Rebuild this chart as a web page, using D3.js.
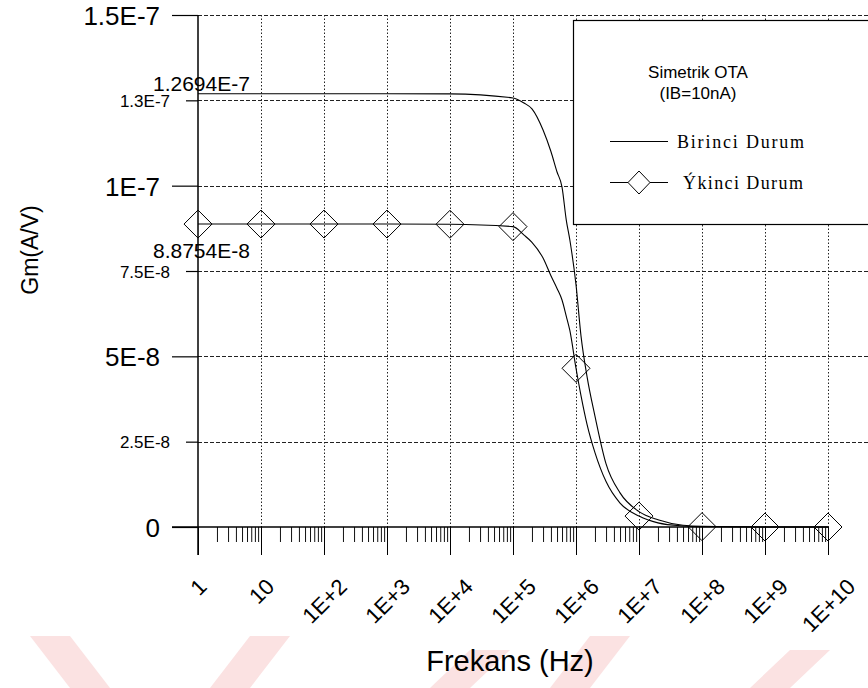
<!DOCTYPE html>
<html><head><meta charset="utf-8">
<script src="https://cdn.jsdelivr.net/npm/d3@7"></script>
<style>
body{margin:0;background:#fff;}
svg{display:block;}
</style></head>
<body>
<svg id="c" width="868" height="688"></svg>
<script>
// ---- data ----
const freqs = [1,10,100,1e3,1e4,1e5,1.5e5,2e5,3e5,4e5,5e5,6e5,7e5,8e5,1e6,1.2e6,1.5e6,2e6,3e6,5e6,1e7,2e7,5e7,1e8,1e9,1e10];
const birinci = [1.2694e-7,1.2694e-7,1.2694e-7,1.2694e-7,1.2690e-7,1.257e-7,1.242e-7,1.225e-7,1.163e-7,1.10e-7,1.04e-7,9.96e-8,9.0e-8,8.4e-8,7.1e-8,5.6e-8,4.4e-8,3.25e-8,1.85e-8,1.0e-8,4.5e-9,2.1e-9,5e-10,2e-10,0,0];
const ikinci = [8.8754e-8,8.8754e-8,8.8754e-8,8.8754e-8,8.87e-8,8.80e-8,8.55e-8,8.34e-8,7.88e-8,7.36e-8,6.99e-8,6.65e-8,6.18e-8,5.75e-8,4.65e-8,3.85e-8,3.0e-8,2.18e-8,1.33e-8,7.0e-9,3.2e-9,1.2e-9,3e-10,1e-10,0,0];
const markerFreqs = [1,10,100,1e3,1e4,1e5,1e6,1e7,1e8,1e9,1e10];
const xTickVals = [1,10,100,1e3,1e4,1e5,1e6,1e7,1e8,1e9,1e10];
const xTickLabels = ["1","10","1E+2","1E+3","1E+4","1E+5","1E+6","1E+7","1E+8","1E+9","1E+10"];
const yTickVals = [0,2.5e-8,5e-8,7.5e-8,1e-7,1.25e-7,1.5e-7];
const yTickLabels = ["0","2.5E-8","5E-8","7.5E-8","1E-7","1.3E-7","1.5E-7"];
const yTickMajor = [true,false,true,false,true,false,true];
const annotations = [{text:"1.2694E-7", value:1.2694e-7},{text:"8.8754E-8", value:8.8754e-8}];
const legendTitle = ["Simetrik OTA","(IB=10nA)"];
const seriesNames = ["Birinci Durum","Ýkinci Durum"];
const xTitle = "Frekans (Hz)";
const yTitle = "Gm(A/V)";

// ---- layout ----
const svg = d3.select("#c");
const pL = 198, pR = 828, pT = 15, pB = 527, gridRight = 868;
const x = d3.scaleLog().domain([1,1e10]).range([pL,pR]);
const y = d3.scaleLinear().domain([0,1.5e-7]).range([pB,pT]);
const SANS = "'Liberation Sans', Arial, sans-serif";
const SERIF = "'Liberation Serif', 'Times New Roman', serif";

// watermark (faint)
const wm = svg.append("g").attr("fill","#fbe2e2");
[[30,636,70,688,110,688,70,636],[250,636,210,688,250,688,290,636],[470,650,430,688,470,688,510,650],[590,636,550,688,590,688,630,636],[790,650,750,688,790,688,830,650]]
 .forEach(p=>wm.append("polygon").attr("points",[[p[0],p[1]],[p[2],p[3]],[p[4],p[5]],[p[6],p[7]]].map(q=>q.join(",")).join(" ")));

// grid
const grid = svg.append("g").attr("stroke","#222").attr("stroke-width",1).attr("fill","none");
yTickVals.filter(v=>v>0).forEach(v=>{
  grid.append("line").attr("x1",pL).attr("x2",gridRight).attr("y1",Math.round(y(v))+0.5).attr("y2",Math.round(y(v))+0.5)
    .attr("stroke-dasharray","4,2");
});
xTickVals.filter(v=>v>1).forEach(v=>{
  grid.append("line").attr("x1",Math.round(x(v))+0.5).attr("x2",Math.round(x(v))+0.5).attr("y1",pT).attr("y2",pB)
    .attr("stroke-dasharray","1.5,2");
});

// minor x ticks
const minor = [];
for(let e=0;e<10;e++) for(let k=2;k<=9;k++) minor.push(k*Math.pow(10,e));
const minorAxis = svg.append("g").attr("transform",`translate(0,${pB})`)
  .call(d3.axisBottom(x).tickValues(minor).tickSize(15).tickFormat(""));
minorAxis.select(".domain").remove();
minorAxis.selectAll("line").attr("stroke","#111");

// major x axis
const xAxis = svg.append("g").attr("transform",`translate(0,${pB})`)
  .call(d3.axisBottom(x).tickValues(xTickVals).tickSize(28).tickFormat((d,i)=>xTickLabels[i]));
xAxis.select(".domain").attr("stroke","#000").attr("stroke-width",1.5).attr("d",`M${pL-26},0H${pR}`);
xAxis.selectAll(".tick line").attr("stroke","#000");
xAxis.selectAll(".tick text").each(function(){
  const t = d3.select(this);
  t.attr("font-family",SANS).attr("font-size",22).attr("fill","#000").attr("text-anchor","middle").attr("y",null).attr("dy","0.35em");
  const L = this.getComputedTextLength();
  const h = 22*0.72;
  const cy = 577 + (L+h)/(2*Math.SQRT2) - pB;
  t.attr("transform",`translate(0,${cy}) rotate(-45)`);
});

// y axis
const yAxis = svg.append("g").attr("transform",`translate(${pL},0)`)
  .call(d3.axisLeft(y).tickValues(yTickVals).tickSize(26).tickFormat((d,i)=>yTickLabels[i]));
yAxis.select(".domain").attr("stroke","#000").attr("stroke-width",1.5).attr("d",`M0,${pT}V${pB+28}`);
yAxis.selectAll(".tick").each(function(d,i){
  const g = d3.select(this);
  const major = yTickMajor[i];
  g.select("line").attr("stroke","#000").attr("stroke-width",1.2).attr("x2",major?-26:-12);
  g.select("text").attr("font-family",SANS).attr("fill","#000")
   .attr("font-size",major?26:17).attr("x",major?-38:-28).attr("dy","0.36em");
});

// legend box
const lg = svg.append("g");
lg.append("rect").attr("x",573.5).attr("y",20.5).attr("width",300).attr("height",204).attr("fill","#fff").attr("stroke","#000").attr("stroke-width",1.2);
lg.append("text").attr("x",698).attr("y",78).attr("text-anchor","middle").attr("font-family",SANS).attr("font-size",17).text(legendTitle[0]);
lg.append("text").attr("x",698).attr("y",99).attr("text-anchor","middle").attr("font-family",SANS).attr("font-size",17).text(legendTitle[1]);
lg.append("line").attr("x1",610).attr("x2",668).attr("y1",141.5).attr("y2",141.5).attr("stroke","#000");
lg.append("line").attr("x1",610).attr("x2",668).attr("y1",182.5).attr("y2",182.5).attr("stroke","#000");
lg.append("path").attr("d","M639,171L650,182.5L639,194L628,182.5Z").attr("fill","#fff").attr("stroke","#000");
lg.append("text").attr("x",677).attr("y",148).attr("font-family",SERIF).attr("font-size",18).attr("letter-spacing",1.8).text(seriesNames[0]);
lg.append("text").attr("x",683).attr("y",189).attr("font-family",SERIF).attr("font-size",18).attr("letter-spacing",1.4).text(seriesNames[1]);

// curves
const line = d3.line().x(d=>x(d[0])).y(d=>y(d[1])).curve(d3.curveMonotoneX);
svg.append("path").datum(freqs.map((f,i)=>[f,birinci[i]])).attr("d",line).attr("fill","none").attr("stroke","#000").attr("stroke-width",1.1);
svg.append("path").datum(freqs.map((f,i)=>[f,ikinci[i]])).attr("d",line).attr("fill","none").attr("stroke","#000").attr("stroke-width",1.1);

// markers
const ikVal = f => ikinci[freqs.indexOf(f)];
svg.append("g").selectAll("path").data(markerFreqs).join("path")
  .attr("d",d=>{const cx=x(d), cy=y(ikVal(d)), r=14; return `M${cx},${cy-r}L${cx+r},${cy}L${cx},${cy+r}L${cx-r},${cy}Z`;})
  .attr("fill","none").attr("stroke","#000").attr("stroke-width",1);

// annotations
annotations.forEach((a,i)=>{
  svg.append("text").attr("x",153).attr("y",y(a.value)+(i===0?-3:34)).attr("font-family",SANS).attr("font-size",21).text(a.text);
});

// titles
svg.append("text").attr("x",510).attr("y",671).attr("text-anchor","middle").attr("font-family",SANS).attr("font-size",29).text(xTitle);
svg.append("text").attr("transform","translate(38,250) rotate(-90)").attr("text-anchor","middle").attr("font-family",SANS).attr("font-size",23).text(yTitle);
</script>
</body></html>
